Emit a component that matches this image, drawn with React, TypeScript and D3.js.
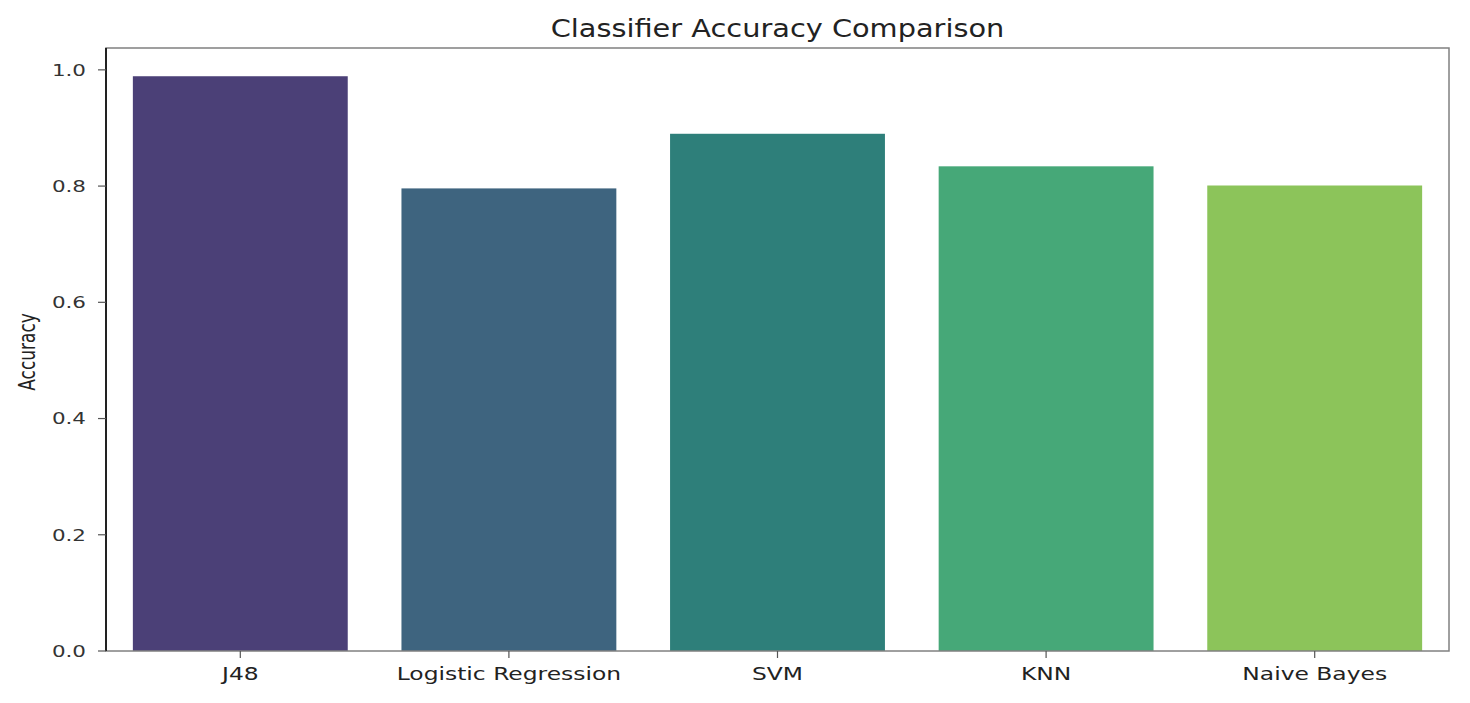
import React from "react";
import * as d3 from "d3";

const categories = ["J48", "Logistic Regression", "SVM", "KNN", "Naive Bayes"];
const accuracy = [0.989, 0.796, 0.89, 0.834, 0.801];
const barColors = ["#4b4077", "#3e647f", "#2e7f7a", "#46a878", "#8cc45a"];
const yTicks = [0, 0.2, 0.4, 0.6, 0.8, 1.0];

export default function App() {
  const W = 1470, H = 703;
  const left = 106, right = 1449, top = 48, bottom = 651;
  const x = d3.scaleBand<string>().domain(categories).range([left, right]).paddingInner(0.2).paddingOuter(0.1);
  const y = d3.scaleLinear().domain([0, 1.0376]).range([bottom, top]);
  const font = "'DejaVu Sans', sans-serif";
  const sx = 1.3;
  return (
    <svg width={W} height={H} style={{ position: "absolute", left: 0, top: 0, background: "#fff" }} fontFamily={font}>
      <rect x={0} y={0} width={W} height={H} fill="#fff" />
      <text transform={`translate(${(left + right) / 2}, 37) scale(1.2,1)`} textAnchor="middle" fontSize={24} fill="#222">Classifier Accuracy Comparison</text>
      {categories.map((c, i) => (
        <rect key={c} x={x(c)} y={y(accuracy[i])} width={x.bandwidth()} height={y(0) - y(accuracy[i])} fill={barColors[i]} />
      ))}
      <rect x={left} y={top} width={right - left} height={bottom - top} fill="none" stroke="#808080" strokeWidth={1.5} />
      <line x1={left} x2={left} y1={top} y2={bottom} stroke="#222" strokeWidth={2} />
      {yTicks.map(t => (
        <g key={t}>
          <line x1={left - 8} x2={left} y1={y(t)} y2={y(t)} stroke="#555" strokeWidth={1.2} />
          <text transform={`translate(86, ${y(t)}) scale(${sx},1)`} dy="0.36em" textAnchor="end" fontSize={16.5} fill="#333">{t.toFixed(1)}</text>
        </g>
      ))}
      {categories.map(c => {
        const cx = x(c)! + x.bandwidth() / 2;
        return (
          <g key={c}>
            <line x1={cx} x2={cx} y1={bottom} y2={bottom + 7} stroke="#555" strokeWidth={1.2} />
            <text transform={`translate(${cx}, 680) scale(${sx},1)`} textAnchor="middle" fontSize={18} fill="#222">{c}</text>
          </g>
        );
      })}
      <text transform={`translate(35, 352) scale(${sx},1) rotate(-90)`} textAnchor="middle" fontSize={17} fill="#222">Accuracy</text>
    </svg>
  );
}
